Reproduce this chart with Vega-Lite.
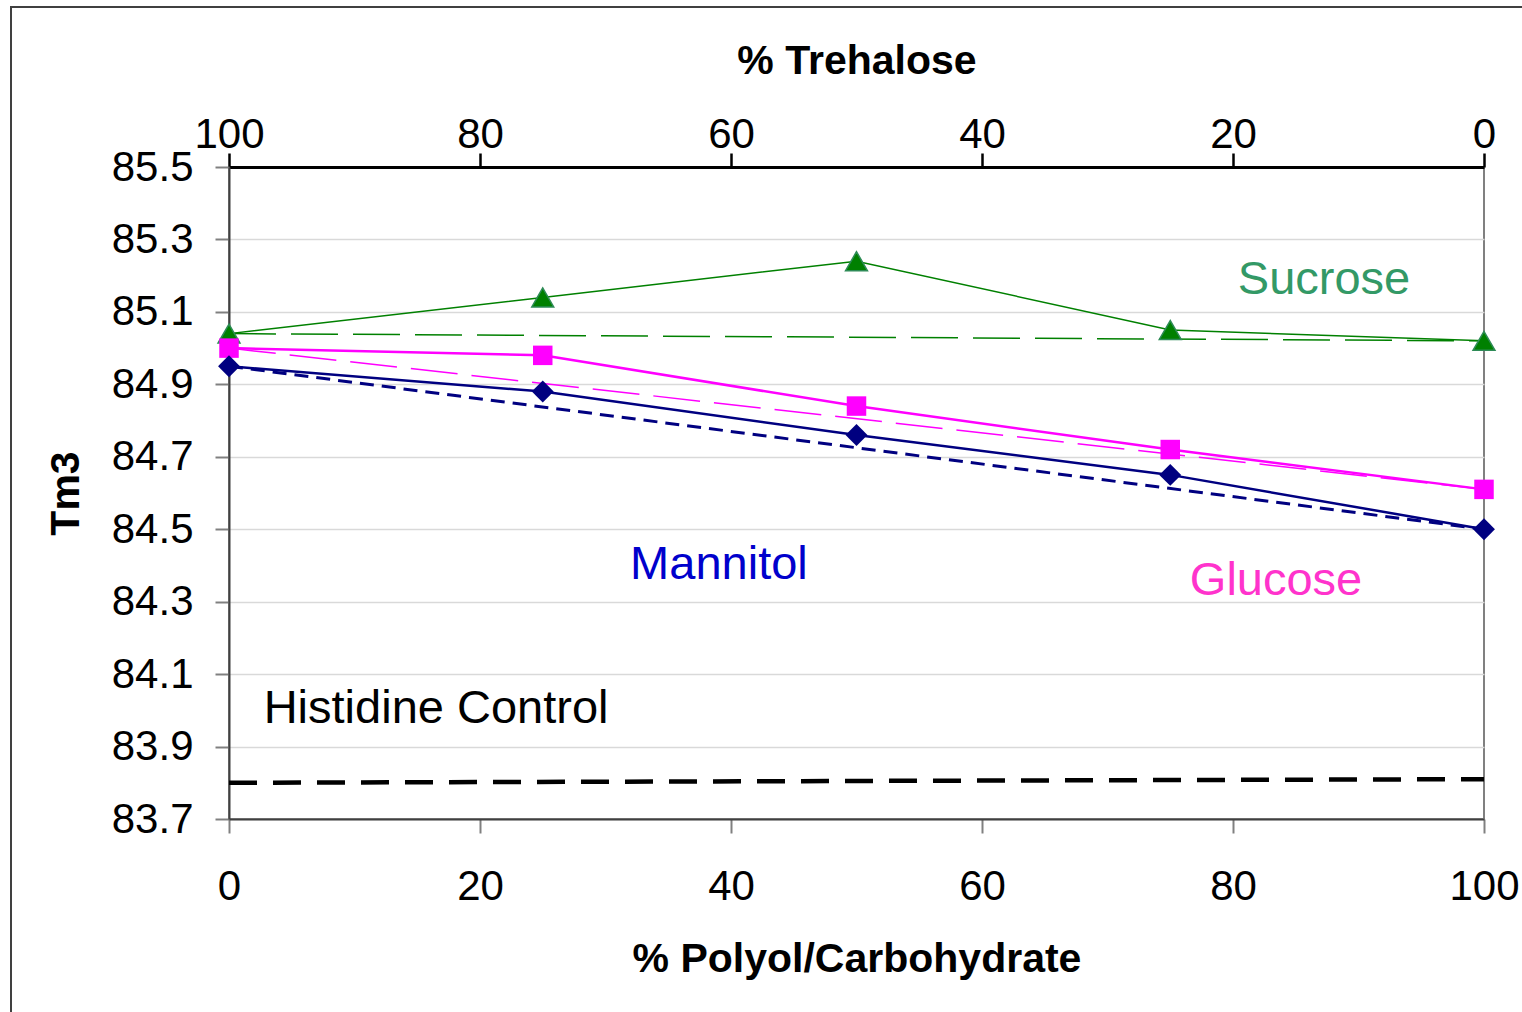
{
  "$schema": "https://vega.github.io/schema/vega-lite/v6.json",
  "width": 1255,
  "height": 652,
  "autosize": "none",
  "padding": {"left": 229, "top": 167, "right": 38, "bottom": 193},
  "background": "white",
  "config": {
    "font": "Liberation Sans",
    "view": {"stroke": "#808080", "strokeWidth": 2},
    "axis": {
      "labelFont": "Liberation Sans",
      "labelFontSize": 42,
      "labelColor": "black",
      "labelFlush": false,
      "labelOverlap": false,
      "titleFont": "Liberation Sans",
      "titleFontSize": 41,
      "titleFontWeight": "bold",
      "titleColor": "black",
      "tickSize": 14,
      "tickWidth": 2,
      "tickColor": "#808080",
      "domainColor": "#404040",
      "domainWidth": 2,
      "gridColor": "#d9d9d9",
      "gridWidth": 1.5
    }
  },
  "datasets": {
    "measured": [
      {"series": "Sucrose", "x": 0, "tm": 85.04},
      {"series": "Sucrose", "x": 25, "tm": 85.14},
      {"series": "Sucrose", "x": 50, "tm": 85.24},
      {"series": "Sucrose", "x": 75, "tm": 85.05},
      {"series": "Sucrose", "x": 100, "tm": 85.02},
      {"series": "Glucose", "x": 0, "tm": 85.0},
      {"series": "Glucose", "x": 25, "tm": 84.98},
      {"series": "Glucose", "x": 50, "tm": 84.84},
      {"series": "Glucose", "x": 75, "tm": 84.72},
      {"series": "Glucose", "x": 100, "tm": 84.61},
      {"series": "Mannitol", "x": 0, "tm": 84.95},
      {"series": "Mannitol", "x": 25, "tm": 84.88},
      {"series": "Mannitol", "x": 50, "tm": 84.76},
      {"series": "Mannitol", "x": 75, "tm": 84.65},
      {"series": "Mannitol", "x": 100, "tm": 84.5}
    ],
    "ideal": [
      {"series": "Sucrose", "x": 0, "tm": 85.04},
      {"series": "Sucrose", "x": 100, "tm": 85.02},
      {"series": "Glucose", "x": 0, "tm": 85.0},
      {"series": "Glucose", "x": 100, "tm": 84.61},
      {"series": "Mannitol", "x": 0, "tm": 84.95},
      {"series": "Mannitol", "x": 100, "tm": 84.5}
    ],
    "control": [
      {"series": "Histidine Control", "x": 0, "tm": 83.8},
      {"series": "Histidine Control", "x": 100, "tm": 83.81}
    ],
    "labels": [
      {"label": "Sucrose", "x": 87.25, "tm": 85.188},
      {"label": "Mannitol", "x": 39.04, "tm": 84.401},
      {"label": "Glucose", "x": 83.43, "tm": 84.357},
      {"label": "Histidine Control", "x": 16.5, "tm": 84.004}
    ],
    "frame": [
      {"left": -17.37, "right": 105, "top": 85.942, "bottom": 83.0}
    ]
  },
  "encoding": {
    "y": {
      "field": "tm",
      "type": "quantitative",
      "scale": {"domain": [83.7, 85.5], "nice": false, "zero": false},
      "axis": {
        "title": "Tm3",
        "values": [83.7, 83.9, 84.1, 84.3, 84.5, 84.7, 84.9, 85.1, 85.3, 85.5],
        "format": ".1f",
        "grid": true,
        "labelPadding": 22,
        "titlePadding": 24
      }
    }
  },
  "layer": [
    {
      "encoding": {
        "x": {
          "field": "x",
          "type": "quantitative",
          "scale": {"domain": [0, 100], "nice": false, "zero": false},
          "axis": {
            "title": "% Polyol/Carbohydrate",
            "orient": "bottom",
            "values": [0, 20, 40, 60, 80, 100],
            "grid": false,
            "labelPadding": 33,
            "titlePadding": 32
          }
        }
      },
      "layer": [
        {
          "data": {"name": "frame"},
          "mark": {"type": "rect", "filled": false, "color": "#404040", "strokeWidth": 2, "clip": false},
          "encoding": {
            "x": {"field": "left", "type": "quantitative"},
            "x2": {"field": "right"},
            "y": {"field": "top", "type": "quantitative"},
            "y2": {"field": "bottom"}
          }
        },
        {
          "data": {"name": "ideal"},
          "transform": [{"filter": "datum.series === 'Sucrose'"}],
          "mark": {"type": "line", "color": "#008000", "strokeWidth": 1.5, "strokeDash": [47, 15]}
        },
        {
          "data": {"name": "ideal"},
          "transform": [{"filter": "datum.series === 'Glucose'"}],
          "mark": {"type": "line", "color": "#FF00FF", "strokeWidth": 1.5, "strokeDash": [47, 14]}
        },
        {
          "data": {"name": "ideal"},
          "transform": [{"filter": "datum.series === 'Mannitol'"}],
          "mark": {"type": "line", "color": "#000080", "strokeWidth": 3, "strokeDash": [14, 8]}
        },
        {
          "data": {"name": "measured"},
          "transform": [{"filter": "datum.series === 'Sucrose'"}],
          "mark": {"type": "line", "color": "#008000", "strokeWidth": 1.5}
        },
        {
          "data": {"name": "measured"},
          "transform": [{"filter": "datum.series === 'Glucose'"}],
          "mark": {"type": "line", "color": "#FF00FF", "strokeWidth": 2.5}
        },
        {
          "data": {"name": "measured"},
          "transform": [{"filter": "datum.series === 'Mannitol'"}],
          "mark": {"type": "line", "color": "#000080", "strokeWidth": 2.5}
        },
        {
          "data": {"name": "measured"},
          "transform": [{"filter": "datum.series === 'Sucrose'"}],
          "mark": {"type": "point", "shape": "triangle-up", "size": 480, "filled": true, "fill": "#008000", "stroke": "#2E8B57", "strokeWidth": 1.5, "opacity": 1, "clip": false}
        },
        {
          "data": {"name": "measured"},
          "transform": [{"filter": "datum.series === 'Glucose'"}],
          "mark": {"type": "point", "shape": "square", "size": 380, "filled": true, "fill": "#FF00FF", "opacity": 1, "clip": false}
        },
        {
          "data": {"name": "measured"},
          "transform": [{"filter": "datum.series === 'Mannitol'"}],
          "mark": {"type": "point", "shape": "diamond", "size": 480, "filled": true, "fill": "#000080", "opacity": 1, "clip": false}
        },
        {
          "data": {"name": "labels"},
          "transform": [{"filter": "datum.label === 'Sucrose'"}],
          "mark": {"type": "text", "fontSize": 47, "color": "#339966", "align": "center", "baseline": "middle"},
          "encoding": {"text": {"field": "label"}}
        },
        {
          "data": {"name": "labels"},
          "transform": [{"filter": "datum.label === 'Mannitol'"}],
          "mark": {"type": "text", "fontSize": 47, "color": "#0000CC", "align": "center", "baseline": "middle"},
          "encoding": {"text": {"field": "label"}}
        },
        {
          "data": {"name": "labels"},
          "transform": [{"filter": "datum.label === 'Glucose'"}],
          "mark": {"type": "text", "fontSize": 47, "color": "#FF33CC", "align": "center", "baseline": "middle"},
          "encoding": {"text": {"field": "label"}}
        },
        {
          "data": {"name": "labels"},
          "transform": [{"filter": "datum.label === 'Histidine Control'"}],
          "mark": {"type": "text", "fontSize": 47, "color": "black", "align": "center", "baseline": "middle"},
          "encoding": {"text": {"field": "label"}}
        }
      ]
    },
    {
      "data": {"name": "control"},
      "mark": {"type": "line", "color": "black", "strokeWidth": 4.5, "strokeDash": [28, 16]},
      "encoding": {
        "x": {
          "field": "x",
          "type": "quantitative",
          "scale": {"domain": [0, 100], "nice": false, "zero": false},
          "axis": {
            "title": "% Trehalose",
            "orient": "top",
            "values": [0, 20, 40, 60, 80, 100],
            "labelExpr": "'' + (100 - datum.value)",
            "grid": false,
            "domainColor": "black",
            "domainWidth": 3,
            "tickColor": "black",
            "tickWidth": 2.5,
            "labelPadding": -3,
            "titlePadding": 31
          }
        }
      }
    }
  ],
  "resolve": {"scale": {"x": "independent"}, "axis": {"x": "independent"}}
}
